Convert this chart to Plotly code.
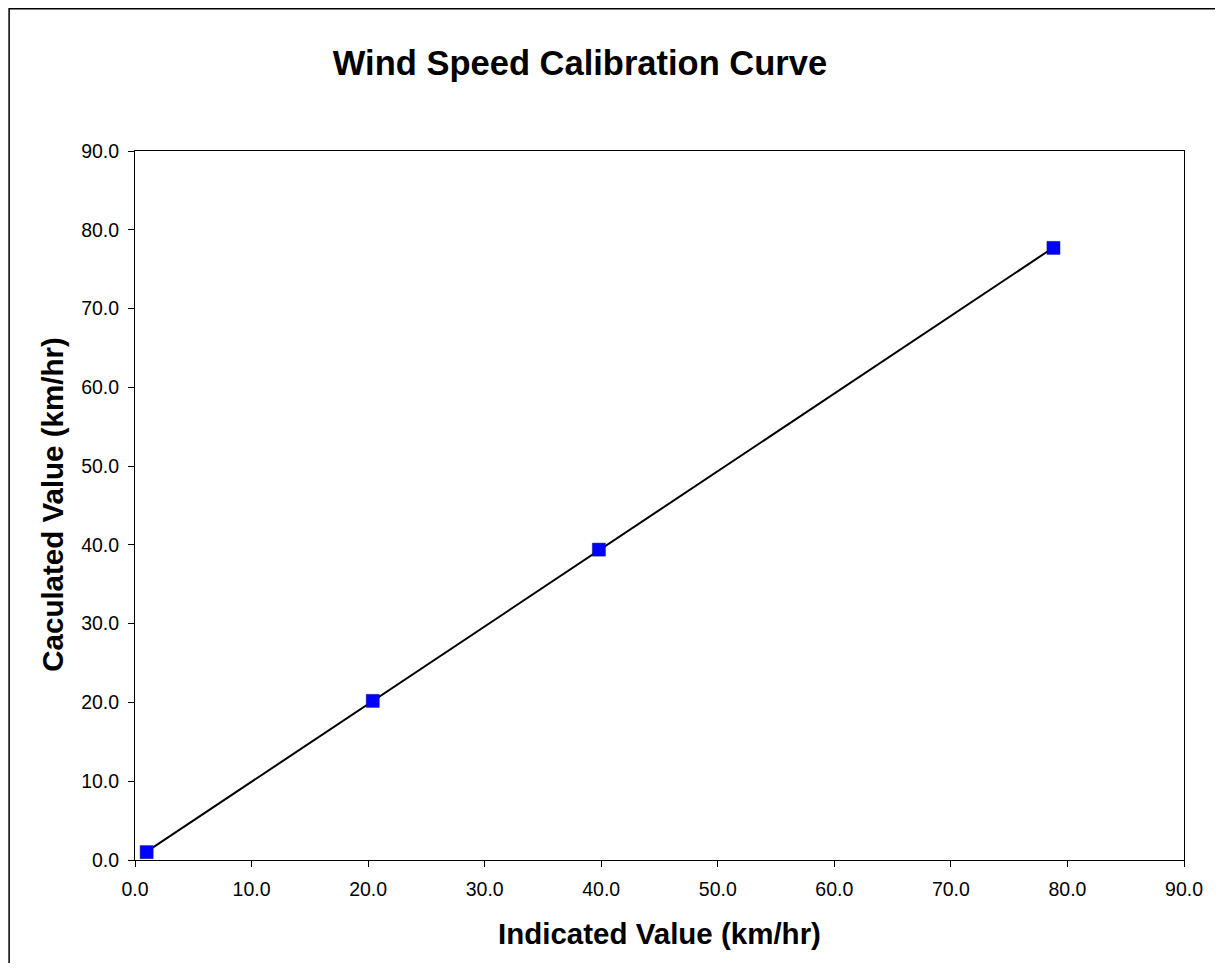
import numpy as np
import plotly.graph_objects as go

indicated = [1.0, 20.4, 39.8, 78.8]
calculated = [1.0, 20.2, 39.4, 77.7]
x_ticks = [0, 10, 20, 30, 40, 50, 60, 70, 80, 90]
y_ticks = [0, 10, 20, 30, 40, 50, 60, 70, 80, 90]

W, H = 1207, 955
L, R, T, B = 127, 28, 143, 103
pw, ph = W - L - R, H - T - B

slope, intercept = np.polyfit(indicated, calculated, 1)
fit_x = [min(indicated), max(indicated)]
fit_y = [slope * v + intercept for v in fit_x]

fig = go.Figure()
fig.add_trace(go.Scatter(x=fit_x, y=fit_y, mode="lines",
                         line=dict(color="black", width=2), showlegend=False, hoverinfo="skip"))
fig.add_trace(go.Scatter(x=indicated, y=calculated, mode="markers",
                         marker=dict(symbol="square", size=13, color="#0000FF",
                                     line=dict(color="#000080", width=0.5)),
                         showlegend=False))

font = "Liberation Sans, Arial, sans-serif"
axis_common = dict(range=[0, 90], tickmode="array", showgrid=False, zeroline=False,
                   showline=True, linecolor="black", linewidth=1, mirror=True,
                   ticks="outside", ticklen=6, tickcolor="black",
                   tickfont=dict(family=font, size=19.5, color="black"))
fig.update_xaxes(tickvals=x_ticks, ticktext=[f"{v:.1f}" for v in x_ticks],
                 ticklabelstandoff=6, **axis_common)
fig.update_yaxes(tickvals=y_ticks, ticktext=[f"{v:.1f}" for v in y_ticks],
                 ticklabelstandoff=5, **axis_common)

fig.add_annotation(text="<b>Indicated Value (km/hr)</b>", xref="paper", yref="paper",
                   x=(661.5 - 8 - L) / pw, y=((H - B) - 925) / ph, xanchor="center", yanchor="middle",
                   showarrow=False, font=dict(family=font, size=29.5, color="black"))
fig.add_annotation(text="<b>Caculated Value (km/hr)</b>", xref="paper", yref="paper",
                   x=(43.5 - L) / pw, y=((H - B) - 497) / ph, xanchor="center", yanchor="middle",
                   textangle=-90, showarrow=False, font=dict(family=font, size=29.5, color="black"))

fig.add_shape(type="rect", xref="paper", yref="paper",
              x0=(0.75 - L) / pw, x1=(W + 5 - L) / pw,
              y0=((H - B) - (H + 5)) / ph, y1=((H - B) - 0.75) / ph,
              line=dict(color="black", width=1.5), fillcolor="rgba(0,0,0,0)", layer="below")

fig.update_layout(
    width=W, height=H,
    margin=dict(l=L, r=R, t=T, b=B),
    paper_bgcolor="white", plot_bgcolor="white",
    title=dict(text="<b>Wind Speed Calibration Curve</b>", xref="container", x=572 / W, xanchor="center",
               yref="container", y=1 - 55 / H, yanchor="middle",
               font=dict(family=font, size=34.5, color="black")),
    font=dict(family=font, color="black"),
)

fig.write_html("out.html")
